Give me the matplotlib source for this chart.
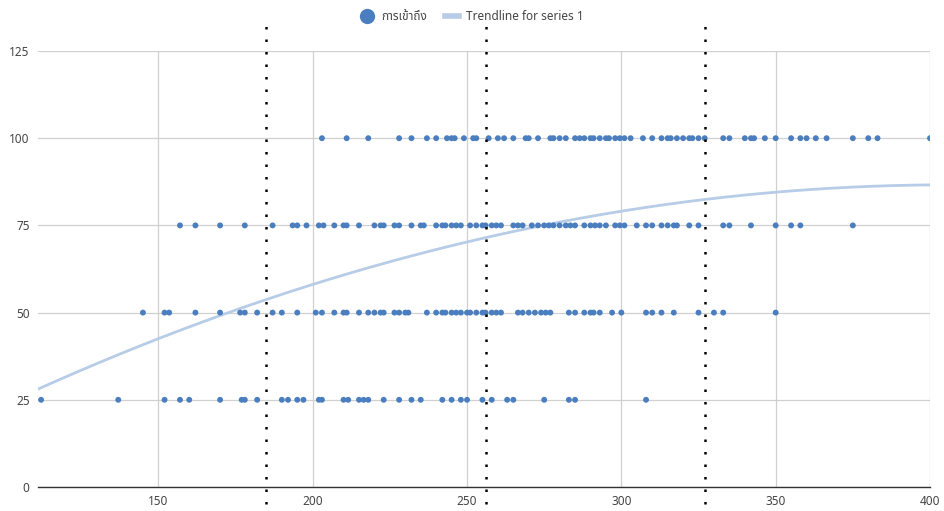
import numpy as np
import matplotlib
matplotlib.use("Agg")
import matplotlib.pyplot as plt
from matplotlib.lines import Line2D

plt.rcParams['font.family'] = ['Noto Sans Thai', 'Lato', 'DejaVu Sans']

# Scatter series: x values grouped by score level
x_100 = [203, 211, 218, 228, 232, 237, 240, 243.5, 245, 246, 249, 252, 253, 257,
         260, 262, 265, 269, 270, 273, 277, 278, 280, 282, 285, 286.5, 288, 290,
         291, 293, 295, 296, 298, 299.5, 301, 303, 307, 310, 313, 315, 316, 318,
         320, 322, 323, 325, 327, 333, 335, 340, 342, 343, 346.5, 350, 355, 358,
         360, 363, 366.5, 375, 380, 383, 400]
x_75 = [157, 162, 170, 178, 187, 193.5, 195, 198, 202, 203.5, 207, 210, 211, 215,
        220, 222, 223, 226.5, 228, 232, 235, 236, 240, 242, 243, 245, 246.5, 248,
        251, 253, 255, 256, 258, 259.5, 261, 265, 266.5, 268, 271, 273, 275,
        276.5, 278, 280, 282, 283.5, 285, 288, 290, 291.5, 293, 295, 298, 299.5,
        301, 305, 308, 310, 313, 315, 317, 318, 322, 325, 333, 335, 342, 350,
        355, 358, 375]
x_50 = [145, 152, 153.5, 162, 170, 176.5, 178, 182, 187, 190, 195, 201, 203, 207,
        210, 211, 215, 218, 220, 222, 223, 226.5, 228, 230, 231, 237, 240, 242,
        243, 245, 246.5, 248, 250, 251, 253, 255, 256, 258, 259.5, 261, 266.5,
        268, 270, 272, 274, 275.5, 277, 283, 285, 288, 290, 291, 293, 297, 300,
        308, 310, 313, 317, 325, 330, 333, 350]
x_25 = [112, 137, 152, 157, 160, 170, 177, 178, 182, 190, 192, 195, 197, 202, 203,
        210, 211.5, 215, 216.5, 218, 223, 228, 232, 235, 242, 245, 248, 250, 255,
        258, 263, 265, 275, 283, 285, 308]
levels = [100, 75, 50, 25]

# Polynomial (order 2) trendline coefficients, highest power first
trend_coef = [-0.000673, 0.5465, -24.31]

# Reference markers along the x axis
ref_lines = [185, 256, 327]

series_label = "การเข้าถึง"
trend_label = "Trendline for series 1"

x_ticks = [150, 200, 250, 300, 350, 400]
y_ticks = [0, 25, 50, 75, 100, 125]
x_range = (111, 400)
y_range = (0, 125)

groups = [x_100, x_75, x_50, x_25]
xs = np.concatenate([np.asarray(g, dtype=float) for g in groups])
ys = np.concatenate([np.full(len(g), lv, dtype=float) for g, lv in zip(groups, levels)])

fig = plt.figure(figsize=(9.44, 5.11), dpi=100)
ax = fig.add_axes([38 / 944, 1 - 487 / 511, (930 - 38) / 944, (487 - 51) / 511])

point_color = "#4a7ebf"
trend_color = "#b7cce6"
text_color = "#444444"

tx = np.linspace(x_range[0], x_range[1], 300)
ax.plot(tx, np.polyval(trend_coef, tx), color=trend_color, lw=2.0, zorder=2)

ax.scatter(xs, ys, s=18, color=point_color, edgecolors="none", zorder=3)

ax.set_xlim(*x_range)
ax.set_ylim(*y_range)
ax.set_xticks(x_ticks)
ax.set_yticks(y_ticks)
ax.grid(True, color="#d0d0d0", lw=0.9, zorder=0)
ax.set_axisbelow(True)
for s in ["top", "right", "left"]:
    ax.spines[s].set_visible(False)
ax.spines["bottom"].set_color("#333333")
ax.spines["bottom"].set_linewidth(1.0)
ax.tick_params(length=0, labelsize=8.5, colors=text_color, pad=6)

# Dotted reference lines that reach past the plot area
for v in ref_lines:
    ax.plot([v, v], [-5, 133], color="black", lw=1.8, linestyle=(0, (1, 4)),
            clip_on=False, zorder=4)

handles = [
    Line2D([], [], marker="o", linestyle="none", markersize=11,
           markerfacecolor=point_color, markeredgecolor="none"),
    Line2D([], [], color=trend_color, lw=4),
]
fig.legend(handles, [series_label, trend_label], loc="center",
           bbox_to_anchor=(0.5, 1 - 17 / 511), ncol=2, frameon=False,
           fontsize=8.5, handlelength=1.2, handletextpad=0.6, columnspacing=1.5,
           labelcolor=text_color)

fig.savefig("out.png", dpi=100)
